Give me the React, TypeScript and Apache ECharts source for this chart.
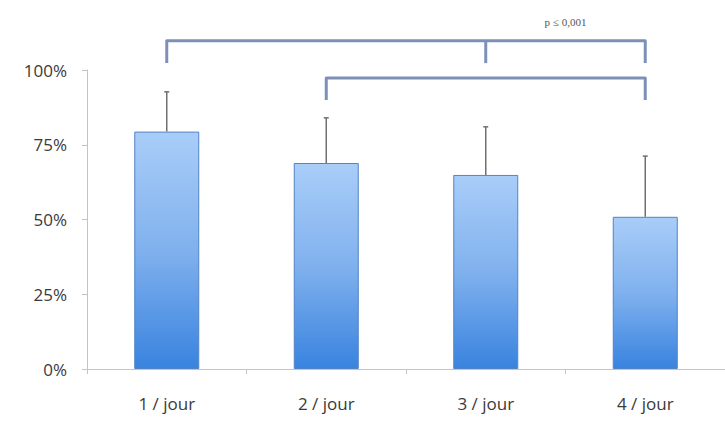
import React, { useEffect, useRef } from "react";
import * as echarts from "echarts";

const categories = ["1 / jour", "2 / jour", "3 / jour", "4 / jour"];
const means = [79.4, 68.9, 64.9, 50.9];
const upperErr = [92.7, 84.0, 81.0, 71.2];
const yTicks = [0, 25, 50, 75, 100];
// brackets: [fromIndex, toIndex, middleIndex(-1 = none), barY, legEndY]
const brackets = [
  [0, 3, 2, 109.8, 102.3],
  [1, 3, -1, 97.3, 90.0],
];
const pLabel = "p ≤ 0,001";

export default function App() {
  const ref = useRef<HTMLDivElement>(null);
  useEffect(() => {
    const chart = echarts.init(ref.current!, null, { renderer: "svg" });
    const bracketColor = "#7d91b6";
    chart.setOption({
      animation: false,
      grid: { left: 87, right: -2, top: 70, bottom: 52, containLabel: false },
      xAxis: {
        type: "category",
        data: categories,
        boundaryGap: true,
        axisLine: { show: true, lineStyle: { color: "#c4c4c4", width: 1 } },
        axisTick: { show: true, alignWithLabel: false, length: 5, lineStyle: { color: "#c4c4c4" } },
        axisLabel: { color: "#3a3a3a", fontSize: 17, fontFamily: "Open Sans", margin: 26 },
      },
      yAxis: {
        type: "value",
        min: 0,
        max: 100,
        interval: 25,
        axisLine: { show: true, lineStyle: { color: "#c4c4c4", width: 1 } },
        axisTick: { show: true, length: 5, lineStyle: { color: "#c4c4c4" } },
        splitLine: { show: false },
        axisLabel: {
          color: "#3a3a3a",
          fontSize: 17,
          fontFamily: "Open Sans",
          margin: 20,
          formatter: (v: number) => (yTicks.includes(v) ? v + "%" : ""),
        },
      },
      series: [
        {
          type: "bar",
          data: means,
          barWidth: 65,
          itemStyle: {
            color: new echarts.graphic.LinearGradient(0, 0, 0, 1, [
              { offset: 0, color: "#a9cdf8" },
              { offset: 0.5, color: "#80b1ee" },
              { offset: 1, color: "#3983df" },
            ]),
            borderColor: "#5283c4",
            borderWidth: 1,
          },
        },
        {
          type: "custom",
          data: means.map((m, i) => [i, m, upperErr[i]]),
          renderItem: (params: any, api: any) => {
            const base = api.coord([api.value(0), api.value(1)]);
            const top = api.coord([api.value(0), api.value(2)]);
            return {
              type: "group",
              children: [
                {
                  type: "line",
                  shape: { x1: base[0], y1: base[1], x2: top[0], y2: top[1] },
                  style: { stroke: "#707070", lineWidth: 1.5 },
                },
                {
                  type: "line",
                  shape: { x1: top[0] - 2.5, y1: top[1], x2: top[0] + 2.5, y2: top[1] },
                  style: { stroke: "#707070", lineWidth: 1.5 },
                },
              ],
            };
          },
          z: 3,
        },
        {
          type: "custom",
          clip: false,
          data: brackets,
          renderItem: (params: any, api: any) => {
            const from = api.value(0);
            const to = api.value(1);
            const mid = api.value(2);
            const yBar = api.value(3);
            const yLeg = api.value(4);
            const a = api.coord([from, yLeg]);
            const b = api.coord([from, yBar]);
            const c = api.coord([to, yBar]);
            const d = api.coord([to, yLeg]);
            const children: any[] = [
              {
                type: "polyline",
                shape: { points: [a, b, c, d] },
                style: { stroke: bracketColor, lineWidth: 3, fill: "none", lineJoin: "round" },
              },
            ];
            if (mid >= 0) {
              const m1 = api.coord([mid, yBar]);
              const m2 = api.coord([mid, yLeg]);
              children.push({
                type: "line",
                shape: { x1: m1[0], y1: m1[1], x2: m2[0], y2: m2[1] },
                style: { stroke: bracketColor, lineWidth: 3 },
              });
              if (params.dataIndex === 0) {
                children.push({
                  type: "text",
                  x: (m1[0] + c[0]) / 2,
                  y: m1[1] - 19,
                  style: {
                    text: pLabel,
                    fill: "#555555",
                    fontSize: 11,
                    fontFamily: "Liberation Serif",
                    align: "center",
                    verticalAlign: "middle",
                  },
                });
              }
            }
            return { type: "group", children };
          },
          z: 4,
        },
      ],
    });
    return () => chart.dispose();
  }, []);
  return <div ref={ref} style={{ width: 725, height: 421, position: "absolute", left: 0, top: 0 }} />;
}
